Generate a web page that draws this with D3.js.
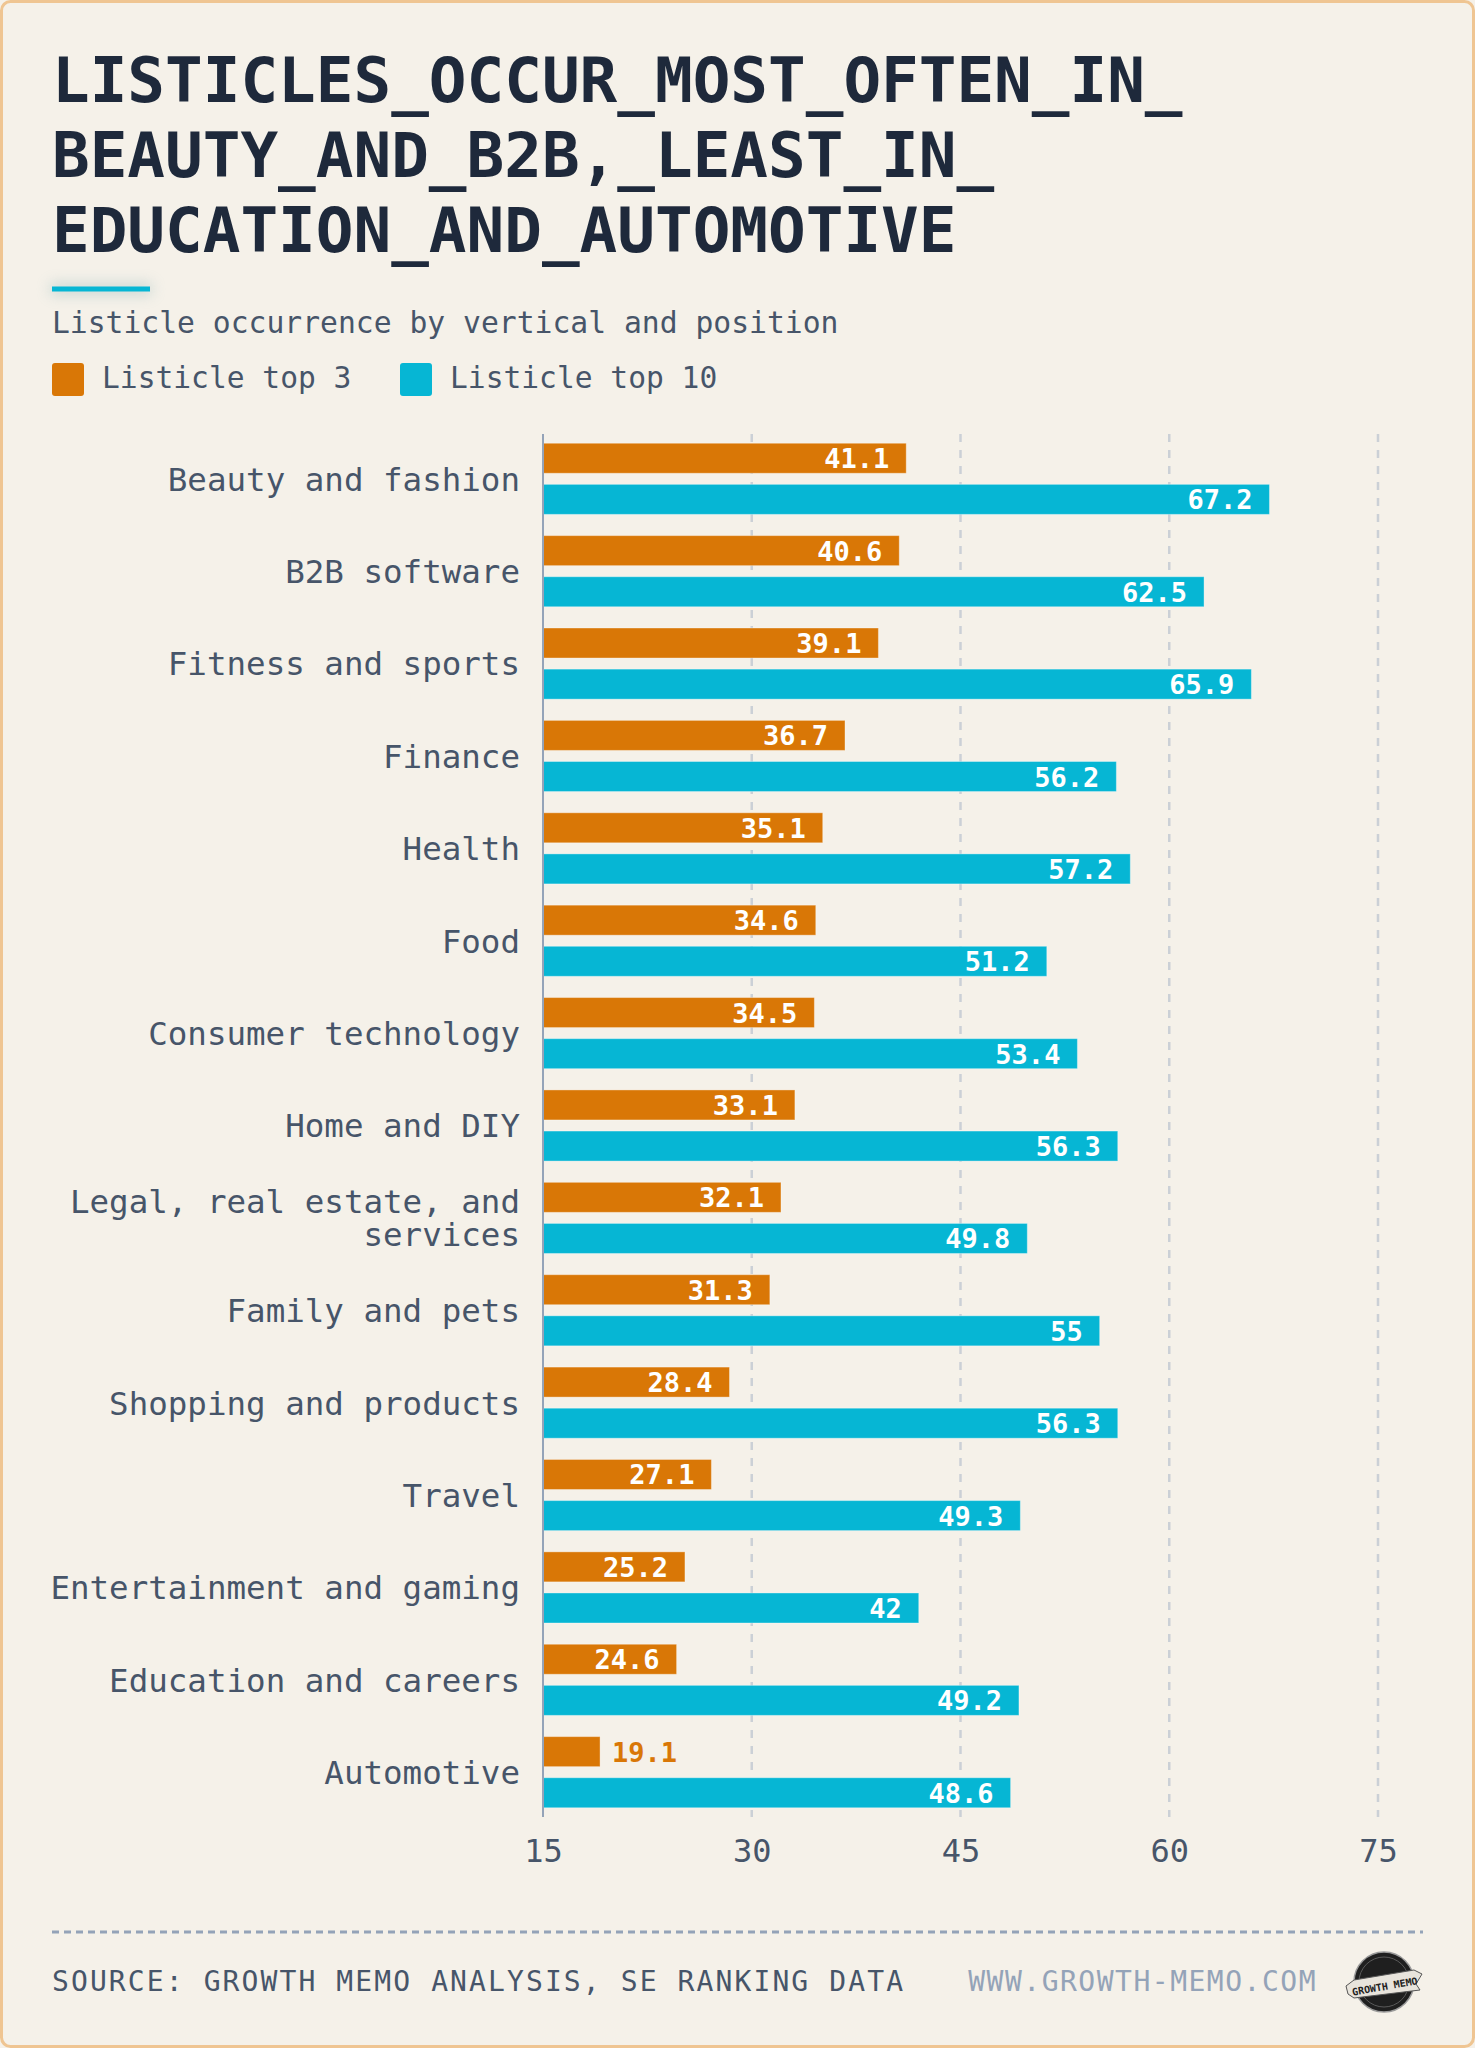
<!DOCTYPE html>
<html>
<head>
<meta charset="utf-8">
<script src="https://cdn.jsdelivr.net/npm/d3@7"></script>
<style>
	body { margin: 0; background: #f5f1e9; }
	svg { display: block; }
</style>
</head>
<body>
<svg id="chart"></svg>
<script>
//Chart data
const categories = [
	'Beauty and fashion', 'B2B software', 'Fitness and sports', 'Finance', 'Health',
	'Food', 'Consumer technology', 'Home and DIY', 'Legal, real estate, and services',
	'Family and pets', 'Shopping and products', 'Travel', 'Entertainment and gaming',
	'Education and careers', 'Automotive'
]
const top3Values = [41.1, 40.6, 39.1, 36.7, 35.1, 34.6, 34.5, 33.1, 32.1, 31.3, 28.4, 27.1, 25.2, 24.6, 19.1]
const top10Values = [67.2, 62.5, 65.9, 56.2, 57.2, 51.2, 53.4, 56.3, 49.8, 55, 56.3, 49.3, 42, 49.2, 48.6]
const seriesNames = ['Listicle top 3', 'Listicle top 10']
const xTicks = [15, 30, 45, 60, 75]
const titleLines = ['LISTICLES_OCCUR_MOST_OFTEN_IN_', 'BEAUTY_AND_B2B,_LEAST_IN_', 'EDUCATION_AND_AUTOMOTIVE']

const width = 1475
const height = 2048
const font = "'DejaVu Sans Mono', 'Liberation Mono', monospace"
const colors = { 'Listicle top 3': '#d97706', 'Listicle top 10': '#06b6d4' }
const textColor = '#475569'

const svg = d3.select('#chart')
	.attr('width', width)
	.attr('height', height)
	.style('font-family', font)

//Background card with border
svg.append('rect')
	.attr('x', 1.5).attr('y', 1.5)
	.attr('width', width - 3).attr('height', height - 3)
	.attr('rx', 9)
	.attr('fill', '#f5f1e9')
	.attr('stroke', '#efc592')
	.attr('stroke-width', 3)

const defs = svg.append('defs')
defs.append('filter')
	.attr('id', 'glow')
	.attr('x', '-50%').attr('y', '-300%')
	.attr('width', '200%').attr('height', '700%')
	.append('feGaussianBlur')
	.attr('stdDeviation', 7)

//Title
svg.append('g')
	.selectAll('text')
	.data(titleLines)
	.join('text')
	.attr('x', 52)
	.attr('y', (d, i) => 102 + i * 75)
	.attr('fill', '#1e293b')
	.style('font-size', '62.6px')
	.style('font-weight', 'bold')
	.text(d => d)

//Accent line under title
svg.append('rect')
	.attr('x', 50).attr('y', 283)
	.attr('width', 102).attr('height', 12)
	.attr('fill', '#7fa9ad')
	.attr('opacity', 0.35)
	.attr('filter', 'url(#glow)')
svg.append('rect')
	.attr('x', 52).attr('y', 286.5)
	.attr('width', 98).attr('height', 5)
	.attr('fill', '#06b6d4')

svg.append('text')
	.attr('x', 52).attr('y', 333)
	.attr('fill', textColor)
	.style('font-size', '29.7px')
	.text('Listicle occurrence by vertical and position')

//Legend
const legend = svg.append('g')
	.selectAll('g')
	.data(seriesNames)
	.join('g')
	.attr('transform', (d, i) => `translate(${[52, 400][i]},363)`)

legend.append('rect')
	.attr('width', 32).attr('height', 33)
	.attr('rx', 3)
	.attr('fill', d => colors[d])

legend.append('text')
	.attr('x', 50).attr('y', 25)
	.attr('fill', textColor)
	.style('font-size', '29.6px')
	.text(d => d)

//Scales
const plotLeft = 543
const plotRight = 1378
const plotTop = 434
const plotBottom = 1817

const x = d3.scaleLinear().domain([15, 75]).range([plotLeft, plotRight])

const y0 = d3.scaleBand()
	.domain(categories)
	.range([plotTop, plotBottom])
	.paddingInner(0.23)
	.paddingOuter(0.1)

const y1 = d3.scaleBand()
	.domain(seriesNames)
	.range([0, y0.bandwidth()])
	.paddingInner(0.27)

const rows = categories.map((c, i) => ({
	category: c,
	values: [
		{ key: seriesNames[0], value: top3Values[i] },
		{ key: seriesNames[1], value: top10Values[i] }
	]
}))

//Grid lines (dashed) behind bars
svg.append('g')
	.selectAll('line')
	.data(xTicks.slice(1))
	.join('line')
	.attr('x1', d => x(d)).attr('x2', d => x(d))
	.attr('y1', plotTop).attr('y2', plotBottom)
	.attr('stroke', '#cbd0d6')
	.attr('stroke-width', 2.5)
	.attr('stroke-dasharray', '8,8')

//Bars
const groups = svg.append('g')
	.selectAll('g')
	.data(rows)
	.join('g')
	.attr('transform', d => `translate(0,${y0(d.category)})`)

groups.selectAll('rect')
	.data(d => d.values)
	.join('rect')
	.attr('x', x(15))
	.attr('y', d => y1(d.key))
	.attr('width', d => x(d.value) - x(15))
	.attr('height', y1.bandwidth())
	.attr('fill', d => colors[d.key])
	.attr('stroke', 'rgba(255,255,255,0.35)')
	.attr('stroke-width', 1)

//Value labels, inside the bar end unless the bar is too short
const labelSize = 27
const labelPad = 17
groups.selectAll('text.value')
	.data(d => d.values)
	.join('text')
	.attr('class', 'value')
	.each(function (d) {
		const barW = x(d.value) - x(15)
		const textW = String(d.value).length * labelSize * 0.602
		const inside = barW > textW + labelPad * 2
		d3.select(this)
			.attr('x', inside ? x(d.value) - labelPad : x(d.value) + 12)
			.attr('text-anchor', inside ? 'end' : 'start')
			.attr('fill', inside ? '#ffffff' : colors[d.key])
	})
	.attr('y', d => y1(d.key) + y1.bandwidth() / 2 + 10)
	.style('font-size', labelSize + 'px')
	.style('font-weight', 'bold')
	.text(d => d.value)

//Axis line at the baseline
svg.append('line')
	.attr('x1', x(15)).attr('x2', x(15))
	.attr('y1', plotTop).attr('y2', plotBottom)
	.attr('stroke', '#94a3b8')
	.attr('stroke-width', 2)

//Category labels, wrapped when too long
const catSize = 32.5
const lineH = 33
const maxLabelW = 480
const wrapLabel = (label) => {
	const words = label.split(' ')
	const lines = []
	let line = ''
	words.forEach(w => {
		const next = line ? line + ' ' + w : w
		if (next.length * catSize * 0.602 > maxLabelW && line) {
			lines.push(line)
			line = w
		} else {
			line = next
		}
	})
	lines.push(line)
	return lines
}

const catLabels = svg.append('g')
	.selectAll('text')
	.data(categories)
	.join('text')
	.attr('text-anchor', 'end')
	.attr('fill', textColor)
	.style('font-size', catSize + 'px')

catLabels.each(function (d) {
	const lines = wrapLabel(d)
	const center = y0(d) + y0.bandwidth() / 2
	const first = center + catSize * 0.729 / 2 - (lines.length - 1) * lineH / 2
	d3.select(this).selectAll('tspan')
		.data(lines)
		.join('tspan')
		.attr('x', 520)
		.attr('y', (l, i) => first + i * lineH)
		.text(l => l)
})

//X axis tick labels
const xAxis = svg.append('g')
	.attr('transform', `translate(0,${plotBottom})`)
	.call(d3.axisBottom(x).tickValues(xTicks).tickSize(0).tickPadding(22))

xAxis.select('.domain').remove()
xAxis.selectAll('text')
	.attr('fill', textColor)
	.style('font-family', font)
	.style('font-size', '32px')

//Footer
svg.append('line')
	.attr('x1', 52).attr('x2', 1423)
	.attr('y1', 1932).attr('y2', 1932)
	.attr('stroke', '#94a3b8')
	.attr('stroke-width', 3)
	.attr('stroke-dasharray', '7,5')

svg.append('text')
	.attr('x', 52).attr('y', 1991)
	.attr('fill', textColor)
	.style('font-size', '28px')
	.style('letter-spacing', '2.1px')
	.text('SOURCE: GROWTH MEMO ANALYSIS, SE RANKING DATA')

svg.append('text')
	.attr('x', 1317).attr('y', 1991)
	.attr('text-anchor', 'end')
	.attr('fill', '#94a3b8')
	.style('font-size', '28px')
	.style('letter-spacing', '1.5px')
	.text('WWW.GROWTH-MEMO.COM')

//Small round badge logo
const logo = svg.append('g').attr('transform', 'translate(1384,1982)')
logo.append('circle').attr('r', 30).attr('fill', '#1f1f1f').attr('stroke', '#9a9a9a').attr('stroke-width', 1.5)
logo.append('circle').attr('r', 25).attr('fill', 'none').attr('stroke', '#5a5a5a').attr('stroke-width', 1)
logo.append('path')
	.attr('d', 'M-38,4 L-30,-2 L30,-12 L38,-8 L32,2 L36,8 L-30,16 L-36,12 Z')
	.attr('fill', '#e8e4dc')
	.attr('stroke', '#555')
	.attr('stroke-width', 1)
logo.append('text')
	.attr('transform', 'rotate(-10)')
	.attr('y', 8)
	.attr('text-anchor', 'middle')
	.attr('fill', '#222')
	.style('font-size', '10px')
	.style('font-weight', 'bold')
	.text('GROWTH MEMO')
</script>
</body>
</html>
